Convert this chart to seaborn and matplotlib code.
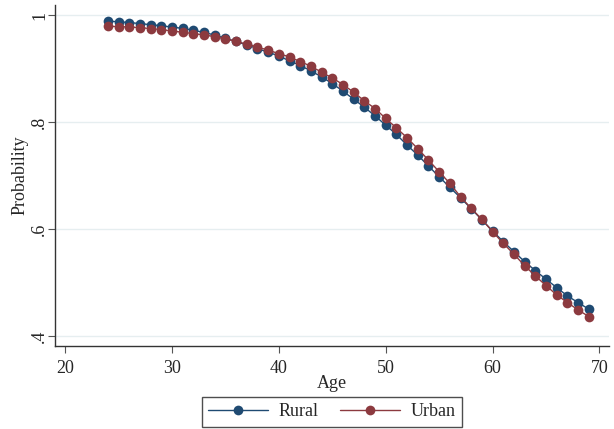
import numpy as np
import pandas as pd
import matplotlib
matplotlib.use("Agg")
import matplotlib.pyplot as plt
import seaborn as sns
from matplotlib.lines import Line2D

ages = list(range(24, 70))
rural = [0.989, 0.988, 0.9865, 0.9845, 0.9825, 0.9805, 0.978, 0.9755, 0.972, 0.968,
         0.963, 0.957, 0.951, 0.9445, 0.9377, 0.9308, 0.924, 0.9146, 0.906, 0.896,
         0.8847, 0.8723, 0.858, 0.843, 0.828, 0.8118, 0.7944, 0.777, 0.757, 0.7383,
         0.7178, 0.6978, 0.6779, 0.6585, 0.638, 0.617, 0.5963, 0.5763, 0.5576, 0.5389,
         0.5221, 0.506, 0.4903, 0.4748, 0.4623, 0.4499]
urban = [0.9794, 0.9789, 0.9781, 0.977, 0.9751, 0.9733, 0.9707, 0.9682, 0.9658, 0.9632,
         0.9602, 0.9557, 0.9514, 0.9458, 0.9408, 0.9346, 0.9284, 0.922, 0.9134, 0.9047,
         0.8935, 0.8828, 0.8704, 0.856, 0.8399, 0.8255, 0.8069, 0.7893, 0.7707, 0.7502,
         0.729, 0.7072, 0.6854, 0.6604, 0.6386, 0.6181, 0.595, 0.5732, 0.5527, 0.5314,
         0.5121, 0.4941, 0.4766, 0.4623, 0.4486, 0.4361]
series_names = ["Rural", "Urban"]
x_ticks = [20, 30, 40, 50, 60, 70]
y_ticks = [0.4, 0.6, 0.8, 1.0]
y_tick_labels = [".4", ".6", ".8", "1"]

colors = {"Rural": "#1f4a72", "Urban": "#8c3a3f"}

df = pd.DataFrame({
    "Age": ages * 2,
    "Probability": rural + urban,
    "Group": ["Rural"] * len(ages) + ["Urban"] * len(ages),
})

sns.set_theme(style="white")
plt.rcParams["font.family"] = ["Liberation Serif", "DejaVu Serif"]
FS = 13

fig = plt.figure(figsize=(6.14, 4.29), dpi=100)
ax = fig.add_axes([0.0896, 0.1935, 0.9024, 0.7945])

for g in series_names:
    sub = df[df["Group"] == g]
    sns.lineplot(data=sub, x="Age", y="Probability", ax=ax, color=colors[g],
                 marker="o", markersize=7, markeredgewidth=0, linewidth=1.0,
                 legend=False)

ax.set_xlim(19.06, 70.9)
ax.set_ylim(0.381, 1.019)
ax.set_xticks(x_ticks)
ax.set_yticks(y_ticks)
ax.set_yticklabels(y_tick_labels, rotation=90, va="center")
ax.tick_params(axis="both", direction="out", length=5, width=0.8, color="#555555",
               labelsize=FS, left=True, bottom=True)
ax.tick_params(axis="x", pad=5)
ax.tick_params(axis="y", pad=0)
ax.grid(axis="y", color="#e6eef0", linewidth=1.0)
ax.grid(axis="x", visible=False)
for s in ["top", "right"]:
    ax.spines[s].set_visible(False)
for s in ["left", "bottom"]:
    ax.spines[s].set_color("#333333")
    ax.spines[s].set_linewidth(1.0)
ax.set_xlabel("Age", fontsize=FS)
ax.set_ylabel("Probability", fontsize=FS)
ax.xaxis.set_label_coords(0.5, -0.085)
ax.yaxis.set_label_coords(-0.047, 0.5)

handles = [Line2D([0], [0], color=colors[g], marker="o", markersize=7,
                  markeredgewidth=0, linewidth=1.0) for g in series_names]
leg = fig.legend(handles, series_names, loc="center",
                 bbox_to_anchor=(332 / 614, 17 / 429),
                 ncol=2, frameon=True, fancybox=False, fontsize=FS, handlelength=3.3,
                 columnspacing=1.2, handletextpad=0.6, borderpad=0.35,
                 borderaxespad=0)
leg.get_frame().set_edgecolor("#222222")
leg.get_frame().set_linewidth(1.0)

fig.savefig("out.png", dpi=100, facecolor="white")
